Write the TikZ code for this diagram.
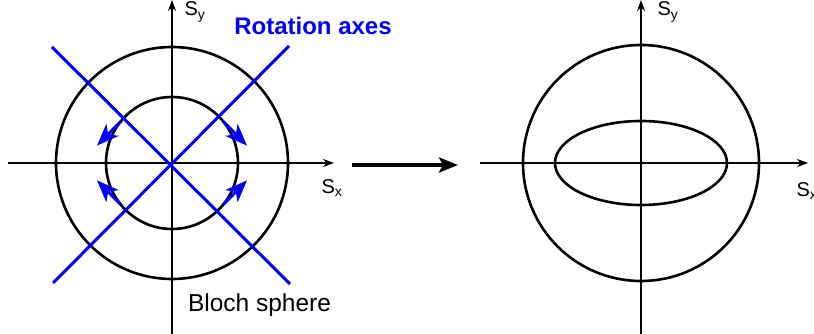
\documentclass[tikz,border=0pt]{standalone}
\usepackage{fontspec}
\setmainfont{Liberation Sans}
\usetikzlibrary{arrows.meta,positioning}
\definecolor{cRot}{HTML}{0000FF}
\tikzset{
  ax/.style   = {-{Stealth[length=11pt,width=8pt]}, line width=2.2pt},
  ring/.style = {line width=2.6pt},
  rot/.style  = {draw=cRot, line width=3pt},
  twist/.style= {draw=cRot, line width=3pt, -{Stealth[length=22pt,width=17pt,inset=6pt]}},
  lbl/.style  = {font=\fontsize{20}{23}\selectfont, inner sep=0pt},
  big/.style  = {-{Stealth[length=19pt,width=15pt,inset=4pt]}, line width=4.5pt},
}
\begin{document}
\begin{tikzpicture}[x=1pt,y=1pt]
  \useasboundingbox (0,0) rectangle (814,334);

  % left: Bloch sphere with rotation axes
  \coordinate (cl) at (172,171);
  \coordinate (xl0) at (8,171);   \coordinate (xl1) at (334,171);
  \coordinate (yl0) at (172,0);   \coordinate (yl1) at (172,334);
  \coordinate (d1a) at (52,287);  \coordinate (d1b) at (290,50);
  \coordinate (d2a) at (53,51);   \coordinate (d2b) at (289,288);

  \draw[ring] (cl) circle (116);
  \draw[ring] (cl) circle (66);
  \draw[ax] (xl0) -- (xl1);
  \draw[ax] (yl0) -- (yl1);
  \draw[rot] (d1a) -- (d1b);
  \draw[rot] (d2a) -- (d2b);

  \draw[twist] ([shift={(141:66)}]cl) -- ([shift={(167:77)}]cl);
  \draw[twist] ([shift={(39:66)}]cl)  -- ([shift={(13:77)}]cl);
  \draw[twist] ([shift={(219:66)}]cl) -- ([shift={(193:77)}]cl);
  \draw[twist] ([shift={(-39:66)}]cl) -- ([shift={(-13:77)}]cl);

  \node[lbl] (syl) at (195,322) {S\textsubscript{y}};
  \node[lbl] (sxl) at (332,146) {S\textsubscript{x}};
  \node[lbl, anchor=base, text=cRot, font=\fontsize{24}{26}\selectfont\bfseries] (rax) at (313,299) {Rotation axes};
  \node[lbl, anchor=base, font=\fontsize{24.5}{27}\selectfont] (bls) at (259.5,22) {Bloch sphere};

  % middle arrow
  \coordinate (m0) at (352,169);
  \coordinate (m1) at (458,169);
  \draw[big] (m0) -- (m1);

  % right: squeezed state
  \coordinate (cr) at (641,171);
  \coordinate (xr0) at (480,171); \coordinate (xr1) at (808,171);
  \coordinate (yr0) at (641,0);   \coordinate (yr1) at (641,334);

  \draw[ring] (cr) circle (118);
  \draw[ring] (cr) ellipse (86 and 42);
  \draw[ax] (xr0) -- (xr1);
  \draw[ax] (yr0) -- (yr1);

  \node[lbl] (syr) at (668,322) {S\textsubscript{y}};
  \node[lbl] (sxr) at (807,143) {S\textsubscript{x}};
\end{tikzpicture}
\end{document}
